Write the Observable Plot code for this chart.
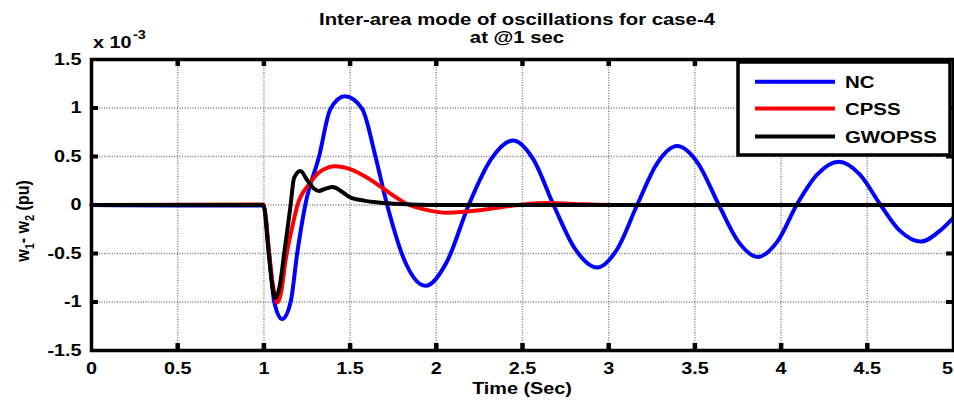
<!DOCTYPE html>
<html>
<head>
<meta charset="utf-8">
<script src="https://cdn.jsdelivr.net/npm/d3@7"></script>
<script src="https://cdn.jsdelivr.net/npm/@observablehq/plot@0.6"></script>
<style>
  html, body { margin: 0; padding: 0; background: #fff; }
  #chart { width: 954px; height: 400px; position: relative; }
</style>
</head>
<body>
<div id="chart"></div>
<script>
// ---- data (in units of 1e-3 pu) ----
const xTicks = [0, 0.5, 1, 1.5, 2, 2.5, 3, 3.5, 4, 4.5, 5];
const yTicks = [-1.5, -1, -0.5, 0, 0.5, 1, 1.5];
const xTickLabels = ["0", "0.5", "1", "1.5", "2", "2.5", "3", "3.5", "4", "4.5", "5"];
const yTickLabels = ["-1.5", "-1", "-0.5", "0", "0.5", "1", "1.5"];
const seriesNames = ["NC", "CPSS", "GWOPSS"];
const seriesColors = ["#0000ff", "#ff0000", "#000000"];

const timeNC = [0, 0.5, 0.99, 1.0, 1.03, 1.06, 1.106, 1.155, 1.193, 1.24, 1.32, 1.386, 1.47, 1.57, 1.647, 1.715,
  1.82, 1.937, 2.06, 2.188, 2.317, 2.446, 2.563, 2.68, 2.806, 2.933, 3.049, 3.165, 3.281, 3.397, 3.518, 3.639,
  3.752, 3.865, 3.978, 4.09, 4.21, 4.335, 4.456, 4.577, 4.69, 4.81, 4.925, 5.0];
const valueNC = [0, -0.005, -0.005, -0.01, -0.5, -1.0, -1.176, -1.0, -0.5, 0, 0.5, 0.99, 1.12, 0.99, 0.5, 0,
  -0.59, -0.833, -0.59, 0, 0.47, 0.666, 0.47, 0, -0.456, -0.645, -0.456, 0, 0.43, 0.607, 0.43, 0,
  -0.378, -0.535, -0.378, 0, 0.315, 0.445, 0.315, 0, -0.267, -0.377, -0.26, -0.13];

const timeCPSS = [0, 0.99, 1.0, 1.025, 1.05, 1.077, 1.10, 1.125, 1.164, 1.195, 1.26, 1.33, 1.415, 1.50, 1.60,
  1.70, 1.754, 1.83, 1.93, 2.06, 2.25, 2.40, 2.50, 2.65, 2.80, 3.0, 5.0];
const valueCPSS = [0, 0.005, 0, -0.4, -0.8, -1.005, -0.9, -0.58, -0.23, 0, 0.21, 0.35, 0.40, 0.37, 0.28,
  0.16, 0.093, 0.01, -0.045, -0.08, -0.055, -0.015, 0.005, 0.02, 0.01, 0, 0];

const timeGWOPSS = [0, 0.99, 1.0, 1.028, 1.05, 1.067, 1.09, 1.12, 1.155, 1.175, 1.212, 1.25, 1.29, 1.318, 1.36,
  1.40, 1.45, 1.50, 1.58, 1.676, 1.8, 2.0, 5.0];
const valueGWOPSS = [0, 0, -0.02, -0.5, -0.85, -0.96, -0.85, -0.47, 0, 0.28, 0.35, 0.26, 0.17, 0.145, 0.17,
  0.185, 0.14, 0.08, 0.045, 0.024, 0.01, 0, 0];

const titleLines = ["Inter-area mode of oscillations for case-4", "at @1 sec"];
const xLabel = "Time (Sec)";

// ---- build tables ----
const toRows = (ts, vs) => ts.map((t, i) => ({t, v: vs[i]}));
const seriesRows = [toRows(timeNC, valueNC), toRows(timeCPSS, valueCPSS), toRows(timeGWOPSS, valueGWOPSS)];

const FONT = "'Liberation Sans', Arial, Helvetica, sans-serif";
const SX = 1.2; // horizontal stretch of the reference's lettering

const innerX = xTicks.slice(1, -1);
const innerY = yTicks.slice(1, -1);

const chart = Plot.plot({
  width: 954,
  height: 400,
  marginLeft: 91,
  marginRight: 1,
  marginTop: 59,
  marginBottom: 50,
  x: {domain: [0, 5]},
  y: {domain: [-1.5, 1.5]},
  style: {fontFamily: FONT, fontWeight: "bold", fontSize: "16.5px", color: "#000", background: "#fff", overflow: "visible"},
  marks: [
    Plot.ruleX(innerX, {stroke: "#777", strokeWidth: 1.4, strokeDasharray: "1,1.6"}),
    Plot.ruleY(innerY, {stroke: "#777", strokeWidth: 1.4, strokeDasharray: "1,1.6"}),
    ...seriesRows.map((rows, k) => Plot.line(rows, {
      x: "t", y: "v", stroke: seriesColors[k], strokeWidth: 4, curve: "monotone-x"
    })),
    Plot.ruleX(innerX, {y1: -1.5, y2: -1.5, insetTop: -7, stroke: "#000", strokeWidth: 4.5}),
    Plot.ruleX(innerX, {y1: 1.5, y2: 1.5, insetBottom: -7, stroke: "#000", strokeWidth: 4.5}),
    Plot.ruleY(innerY, {x1: 0, x2: 0, insetRight: -7, stroke: "#000", strokeWidth: 4}),
    Plot.ruleY(innerY, {x1: 5, x2: 5, insetLeft: -7, stroke: "#000", strokeWidth: 4}),
    Plot.frame({stroke: "#000", strokeWidth: 3.5}),
    Plot.axisX({ticks: xTicks, tickSize: 0, tickPadding: 12, label: null,
      tickFormat: d => xTickLabels[xTicks.indexOf(d)]}),
    Plot.axisY({ticks: yTicks, tickSize: 0, tickPadding: 10, label: null,
      tickFormat: d => yTickLabels[yTicks.indexOf(d)]})
  ]
});

document.getElementById("chart").appendChild(chart);
const svg = d3.select(chart);

// stretch tick labels horizontally like the reference (scale about each label's anchor)
svg.selectAll("g[aria-label='x-axis tick label'] text, g[aria-label='y-axis tick label'] text")
  .each(function () {
    const el = d3.select(this);
    let tr = el.attr("transform") || "";
    // keep the last x label ("5") inside the picture
    if (el.text() === xTickLabels[xTickLabels.length - 1] && this.parentNode.getAttribute("aria-label") === "x-axis tick label") {
      tr = tr.replace(/translate\(\s*([-\d.]+)/, (m, x) => `translate(${+x - 6}`);
    }
    el.attr("transform", `${tr} scale(${SX},1)`);
  });

function addText(x, y, str, opts = {}) {
  return svg.append("text")
    .attr("transform", `translate(${x},${y}) scale(${opts.sx || SX},1)`)
    .attr("text-anchor", opts.anchor || "start")
    .attr("font-family", FONT)
    .attr("font-weight", "bold")
    .attr("font-size", opts.size || 16.5)
    .attr("fill", "#000")
    .text(str);
}

// title
addText(517, 25, titleLines[0], {anchor: "middle", size: 16, sx: 1.27});
addText(517, 42.5, titleLines[1], {anchor: "middle", size: 16, sx: 1.27});

// exponent
addText(93, 48, "x 10", {size: 16.5});
addText(133, 38.5, "-3", {size: 12});

// x label
addText(522, 394, xLabel, {anchor: "middle", size: 16.5});

// y label with subscripts
const yl = svg.append("text")
  .attr("transform", "translate(29,221) rotate(-90) scale(1,1.2)")
  .attr("text-anchor", "middle")
  .attr("font-family", FONT)
  .attr("font-weight", "bold")
  .attr("font-size", 16)
  .attr("fill", "#000");
yl.append("tspan").text("w");
yl.append("tspan").attr("font-size", 11).attr("dy", 4).text("1");
yl.append("tspan").attr("dy", -4).text("- w");
yl.append("tspan").attr("font-size", 11).attr("dy", 4).text("2");
yl.append("tspan").attr("dy", -4).text(" (pu)");

// legend
const lg = svg.append("g").attr("aria-label", "legend");
lg.append("rect").attr("x", 738).attr("y", 62).attr("width", 212).attr("height", 93)
  .attr("fill", "#fff").attr("stroke", "#000").attr("stroke-width", 3.5);
const legendY = [81.7, 108.5, 136.5];
seriesNames.forEach((name, k) => {
  lg.append("line").attr("x1", 755).attr("x2", 835).attr("y1", legendY[k]).attr("y2", legendY[k])
    .attr("stroke", seriesColors[k]).attr("stroke-width", 4);
  lg.append("text")
    .attr("transform", `translate(845,${legendY[k] + 6.2}) scale(${SX},1)`)
    .attr("text-anchor", "start")
    .attr("font-family", FONT).attr("font-weight", "bold").attr("font-size", 17).attr("fill", "#000")
    .text(name);
});
</script>
</body>
</html>
